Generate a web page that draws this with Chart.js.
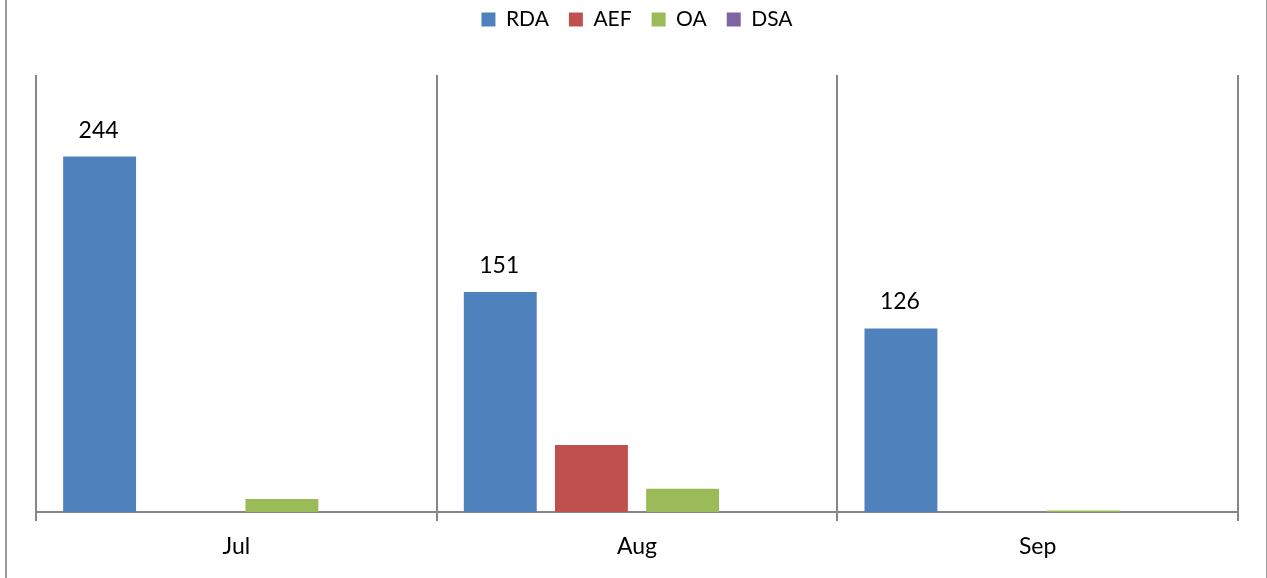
<!DOCTYPE html>
<html>
<head>
<meta charset="utf-8">
<script src="https://cdn.jsdelivr.net/npm/chart.js@4.4.1/dist/chart.umd.min.js"></script>
<style>
  html, body { margin: 0; padding: 0; background: #fff; }
  #wrap { width: 1267px; height: 578px; }
</style>
</head>
<body>
<div id="wrap"><canvas id="bar-chart"></canvas></div>
<script>
'use strict';

const months = ['Jul', 'Aug', 'Sep'];

const rdaValues = [244, 151, 126];
const aefValues = [0, 46, 0];
const oaValues = [9, 16, 1];
const dsaValues = [0, 0, 0];

const yMax = 300;

const gridColor = '#868686';
const textFont = 'Lato, "Open Sans", sans-serif';


// draws the numbers over the RDA bars
const valueLabels = {
    id: 'valueLabels',
    afterDatasetsDraw(chart) {
	const ctx = chart.ctx;
	const meta = chart.getDatasetMeta(0);
	ctx.save();
	ctx.font = '23px ' + textFont;
	ctx.fillStyle = '#000';
	ctx.textAlign = 'center';
	ctx.textBaseline = 'alphabetic';
	meta.data.forEach((bar, i) => {
	    ctx.fillText(String(rdaValues[i]), bar.x - 1, bar.y - 19);
	});
	ctx.restore();
    },
};

// the frame round the whole picture (only left and right show)
const frame = {
    id: 'frame',
    beforeDraw(chart) {
	const ctx = chart.ctx;
	ctx.save();
	ctx.strokeStyle = '#9a9a9a';
	ctx.lineWidth = 2;
	ctx.beginPath();
	ctx.moveTo(6, 0);
	ctx.lineTo(6, chart.height);
	ctx.stroke();
	ctx.lineWidth = 1;
	ctx.beginPath();
	ctx.moveTo(1266.5, 0);
	ctx.lineTo(1266.5, chart.height);
	ctx.stroke();
	ctx.restore();
    },
};

// more room under the legend
const legendMargin = {
    id: 'legendMargin',
    beforeInit(chart) {
	const fitLegend = chart.legend.fit;
	chart.legend.fit = function fit() {
	    fitLegend.bind(chart.legend)();
	    this.height = 86;
	};
    },
};


const chartData = {
    labels: months,
    datasets: [{
	label: 'RDA',
	backgroundColor: '#4F81BD',
	data: rdaValues,
    }, {
	label: 'AEF',
	backgroundColor: '#C0504D',
	data: aefValues,
    }, {
	label: 'OA',
	backgroundColor: '#9BBB59',
	data: oaValues,
    }, {
	label: 'DSA',
	backgroundColor: '#8064A2',
	data: dsaValues,
    }],
};

const chartConfig = {
    type: 'bar',
    data: chartData,
    options: {
	responsive: true,
	maintainAspectRatio: false,
	animation: false,
	categoryPercentage: 0.91,
	barPercentage: 0.8,
	layout: {
	    padding: { left: 36, right: 29, top: -11, bottom: 0 },
	},
	plugins: {
	    legend: {
		position: 'top',
		labels: {
		    boxWidth: 14,
		    boxHeight: 14,
		    padding: 20,
		    color: '#000',
		    font: { family: textFont, size: 21 },
		},
	    },
	    tooltip: { enabled: false },
	},
	scales: {
	    x: {
		grid: {
		    display: true,
		    color: gridColor,
		    lineWidth: 2,
		    tickLength: 9,
		    tickColor: gridColor,
		},
		border: {
		    display: true,
		    color: gridColor,
		    width: 2,
		},
		ticks: {
		    color: '#000',
		    padding: 12,
		    font: { family: textFont, size: 23 },
		},
		afterFit: scale => { scale.height = 66; },
	    },
	    y: {
		display: false,
		min: 0,
		max: yMax,
	    },
	},
    },
    plugins: [valueLabels, frame, legendMargin],
};

const barChart = new Chart(document.querySelector('#bar-chart'), chartConfig);
</script>
</body>
</html>
